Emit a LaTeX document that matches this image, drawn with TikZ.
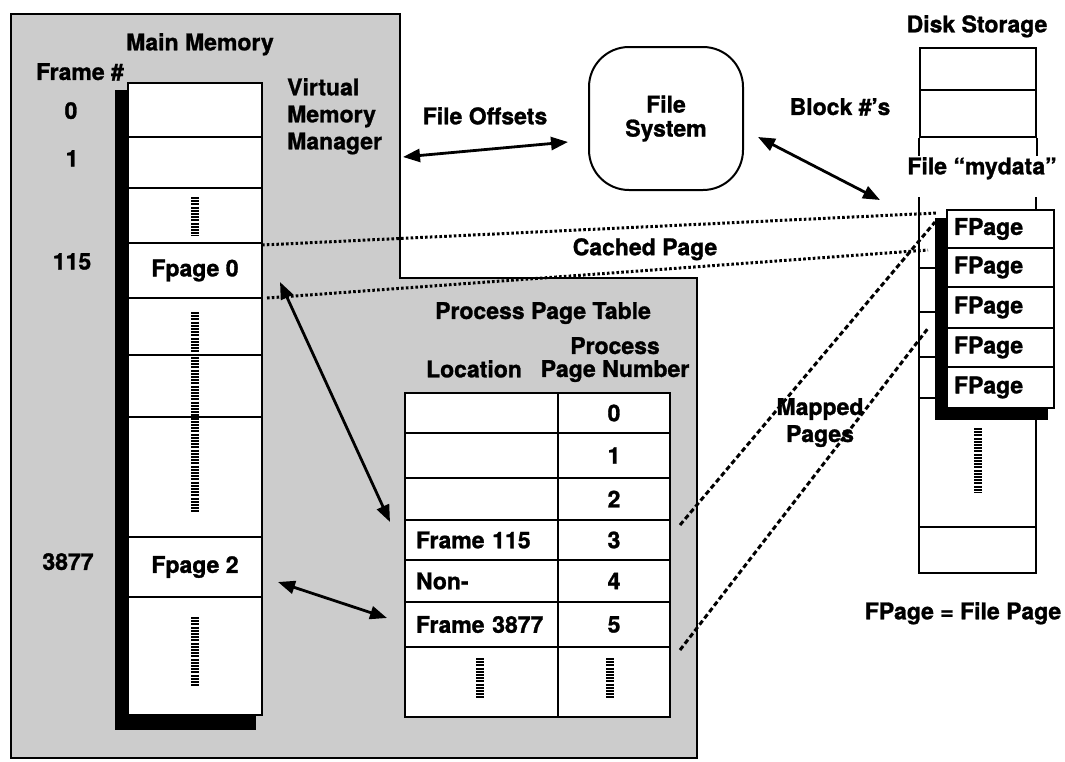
\documentclass[tikz,border=0pt]{standalone}
\usepackage{fontspec}
\setmainfont{TeX Gyre Heros}[BoldFeatures={FakeBold=1.2}]
\usetikzlibrary{arrows.meta}
\begin{document}
\begin{tikzpicture}[x=1pt,y=-1pt,
  lbl/.style={font=\fontsize{23}{25}\selectfont\bfseries, inner sep=0pt},
  cell/.style={draw, line width=2pt, fill=white, inner sep=0pt},
  mcell/.style={cell, minimum width=134pt},
  lcell/.style={cell, lbl, inner xsep=11pt, text width=131pt, align=left},
  ncell/.style={cell, lbl, minimum width=112pt},
  fcell/.style={cell, lbl, inner xsep=7pt, text width=93pt, align=left},
  ladder/.style={line width=8pt, dash pattern=on 2pt off 1.2pt},
  region/.style={draw, line width=2pt, fill=black!20},
  shadow/.style={fill=black},
  dbl/.style={{Triangle[length=17pt,width=13pt]}-{Triangle[length=17pt,width=13pt]}, line width=2.8pt},
  cached/.style={line width=3pt, dash pattern=on 2.6pt off 2.2pt},
  mapped/.style={line width=3pt, dash pattern=on 5pt off 3pt}
]
\useasboundingbox (0,0) rectangle (1065,761);

% shaded area: main memory and the process page table
\path[region] (11,14) -- (400,14) -- (400,278) -- (697,278) -- (697,758) -- (11,758) -- cycle;

% ---------- main memory frames ----------
\fill[shadow] (115,90) rectangle (256,730);
\node[mcell, minimum height=54pt]  (m0) at (195,110)   {};
\node[mcell, minimum height=51pt]  (m1) at (195,162.5) {};
\node[mcell, minimum height=55pt]  (m2) at (195,215.5) {};
\node[mcell, lbl, minimum height=55pt]  (m3) at (195,270.5) {Fpage 0};
\node[mcell, minimum height=57pt]  (m4) at (195,326.5) {};
\node[mcell, minimum height=62pt]  (m5) at (195,386)   {};
\node[mcell, minimum height=120pt] (m6) at (195,477)   {};
\node[mcell, lbl, minimum height=60pt]  (m7) at (195,567) {Fpage 2};
\node[mcell, minimum height=118pt] (m8) at (195,656)   {};
\draw[ladder] (195,197) -- (195,236);
\draw[ladder] (195,312) -- (195,512);
\draw[ladder] (195,617) -- (195,686);

\node[lbl, anchor=north] (mmt) at (200,33) {Main Memory};
\node[lbl, anchor=north] (fnum) at (80,63) {Frame \#};
\node[lbl, anchor=north] (f0) at (71,102) {0};
\node[lbl, anchor=north] (f1) at (72,150) {1};
\node[lbl, anchor=north] (f115) at (72,253) {115};
\node[lbl, anchor=north] (f3877) at (68,553) {3877};
\node[lbl, anchor=north west, align=left] (vmm) at (287,78) {Virtual\\[2pt]Memory\\[2pt]Manager};

% ---------- process page table ----------
\node[lbl, anchor=north] (ppt) at (543,302) {Process Page Table};
\node[lbl, anchor=north] (loc) at (474,360) {Location};
\node[lbl, anchor=north, align=center] (ppn) at (615,337) {Process\\[-2pt]Page Number};

\node[lcell, minimum height=40pt] (l0) at (481.5,413)   {};
\node[lcell, minimum height=45pt] (l1) at (481.5,455.5) {};
\node[lcell, minimum height=42pt] (l2) at (481.5,499)   {};
\node[lcell, minimum height=40pt] (l3) at (481.5,540)   {Frame 115};
\node[lcell, minimum height=42pt] (l4) at (481.5,581)   {Non-};
\node[lcell, minimum height=45pt] (l5) at (481.5,624.5) {Frame 3877};
\node[lcell, minimum height=70pt] (l6) at (481.5,682)   {};
\node[ncell, minimum height=40pt] (n0) at (614,413)   {0};
\node[ncell, minimum height=45pt] (n1) at (614,455.5) {1};
\node[ncell, minimum height=42pt] (n2) at (614,499)   {2};
\node[ncell, minimum height=40pt] (n3) at (614,540)   {3};
\node[ncell, minimum height=42pt] (n4) at (614,581)   {4};
\node[ncell, minimum height=45pt] (n5) at (614,624.5) {5};
\node[ncell, minimum height=70pt] (n6) at (614,682)   {};
\draw[ladder] (480,658) -- (480,698);
\draw[ladder] (610,658) -- (610,698);

% ---------- file system ----------
\node[draw, line width=2pt, rounded corners=40pt, minimum width=154pt, minimum height=143pt,
      lbl, align=center] (fs) at (666,118.5) {File\\[-1pt]System};
\node[lbl, anchor=north] (fot) at (485,107) {File Offsets};
\node[lbl, anchor=north] (bnt) at (840,98) {Block \#'s};

% ---------- disk storage ----------
\node[lbl, anchor=north] (dst) at (977,15) {Disk Storage};
\node[cell, minimum width=116pt, minimum height=42pt] (d0) at (978,69)    {};
\node[cell, minimum width=116pt, minimum height=47pt] (d1) at (978,113.5) {};
\draw[line width=2pt] (d1.south west) -- ++(0,18);
\draw[line width=2pt] (d1.south east) -- ++(0,18);
\node[lbl, anchor=north] (fmd) at (982,157) {File “mydata”};

\draw[line width=2pt] (919,197) -- (919,573) -- (1036,573) -- (1036,197);
\draw[line width=2pt] (919,527) -- (1036,527);
\foreach \yy in {268,312,357,398} \draw[line width=2pt] (919,\yy) -- (1036,\yy);
\draw[ladder] (978,428) -- (978,493);

\fill[shadow] (935,218) rectangle (1048,420);
\node[fcell, minimum height=38pt] (p0) at (1000.5,229)   {FPage};
\node[fcell, minimum height=39pt] (p1) at (1000.5,267.5) {FPage};
\node[fcell, minimum height=41pt] (p2) at (1000.5,307.5) {FPage};
\node[fcell, minimum height=39pt] (p3) at (1000.5,347.5) {FPage};
\node[fcell, minimum height=41pt] (p4) at (1000.5,387.5) {FPage};
\node[lbl, anchor=north] (leg) at (963,602) {FPage = File Page};

% ---------- connector end points ----------
\coordinate (c1a) at (262,245);  \coordinate (c1b) at (937,213);
\coordinate (c2a) at (267,298);  \coordinate (c2b) at (928,250);
\coordinate (q1a) at (680,525);  \coordinate (q1b) at (935,222);
\coordinate (q2a) at (680,650);  \coordinate (q2b) at (929,327);
\coordinate (foA) at (403,157);  \coordinate (foB) at (568,142);
\coordinate (bkA) at (758,137);  \coordinate (bkB) at (880,200);
\coordinate (a0A) at (280,282);  \coordinate (a0B) at (390,522);
\coordinate (a2A) at (278,582);  \coordinate (a2B) at (387,618);

% cached page and mapped pages
\draw[cached] (c1a) -- (c1b);
\draw[cached] (c2a) -- (c2b);
\draw[mapped] (q1a) -- (q1b);
\draw[mapped] (q2a) -- (q2b);
\node[lbl, anchor=north] (cpt) at (645,238) {Cached Page};
\node[lbl, anchor=north, align=center] (mpt) at (820,398) {Mapped\\[2pt]Pages};

% two-way arrows
\draw[dbl] (foA) -- (foB);
\draw[dbl] (bkA) -- (bkB);
\draw[dbl] (a0A) -- (a0B);
\draw[dbl] (a2A) -- (a2B);
\end{tikzpicture}
\end{document}
